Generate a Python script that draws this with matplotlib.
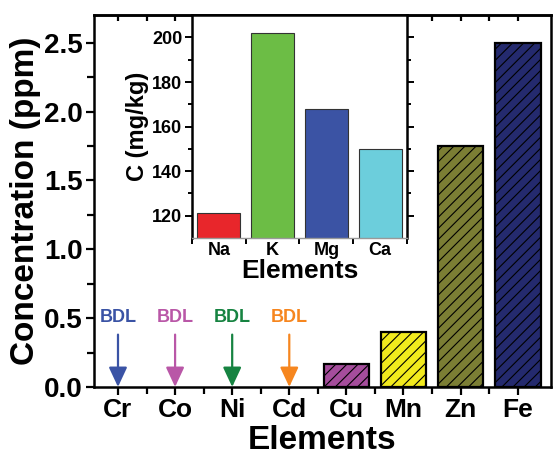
import matplotlib.pyplot as plt

plt.rcParams['font.family'] = ['Liberation Sans', 'DejaVu Sans']
plt.rcParams['font.weight'] = 'bold'
plt.rcParams['hatch.linewidth'] = 0.8

# main chart data (ppm)
elements = ['Cr', 'Co', 'Ni', 'Cd', 'Cu', 'Mn', 'Zn', 'Fe']
conc = [0, 0, 0, 0, 0.17, 0.40, 1.75, 2.50]
bar_colors = ['none', 'none', 'none', 'none', '#a54d9c', '#f2ea1d', '#7b7e34', '#242a6e']
bdl_elements = ['Cr', 'Co', 'Ni', 'Cd']
bdl_colors = ['#3a53a5', '#b957a7', '#168341', '#f6861f']

# inset data (mg/kg)
inset_elements = ['Na', 'K', 'Mg', 'Ca']
inset_vals = [121, 202, 168, 150]
inset_colors = ['#e8262b', '#6cbd45', '#3b53a4', '#6ccedc']

fig = plt.figure(figsize=(5.53, 4.59), dpi=100)
ax = fig.add_axes([0.170, 0.157, 0.826, 0.810])

x = list(range(len(elements)))
for i, (v, c) in enumerate(zip(conc, bar_colors)):
    if v > 0:
        ax.bar(i, v, width=0.8, color=c, edgecolor='black', linewidth=1.6, hatch='///', zorder=2)

# BDL arrows
for el, c in zip(bdl_elements, bdl_colors):
    i = elements.index(el)
    ax.annotate('', xy=(i, 0), xytext=(i, 0.38),
                arrowprops=dict(arrowstyle='-|>,head_length=0.6,head_width=0.28',
                                color=c, lw=1.6, shrinkA=0, shrinkB=0, mutation_scale=20))
    ax.text(i, 0.505, 'BDL', color=c, fontsize=13, fontweight='bold', ha='center', va='center')

ax.set_xlim(-0.42, 7.58)
ax.set_ylim(0, 2.7)
ax.set_xticks(x)
ax.set_xticklabels(elements)
minor_x = [i + 0.5 for i in x[:-1]]
ax.set_xticks(minor_x, minor=True)
ax.set_yticks([0, 0.5, 1.0, 1.5, 2.0, 2.5])
ax.set_yticks([0.25, 0.75, 1.25, 1.75, 2.25], minor=True)
ax.tick_params(axis='x', which='major', labelsize=19, width=1.6, length=6, direction='out', pad=2)
ax.tick_params(axis='y', which='major', labelsize=20, width=1.6, length=6, direction='out', pad=2)
ax.tick_params(axis='both', which='minor', width=1.6, length=5, direction='out')
for lab in ax.get_xticklabels() + ax.get_yticklabels():
    lab.set_fontweight('bold')
for s in ax.spines.values():
    s.set_linewidth(1.8)
ax.set_xlabel('Elements', fontsize=24, fontweight='bold', labelpad=2)
ax.set_ylabel('Concentration (ppm)', fontsize=24, fontweight='bold', labelpad=2)

# top ticks pointing inward
top = ax.secondary_xaxis('top')
top.set_xticks(x)
top.set_xticks(minor_x, minor=True)
top.tick_params(axis='x', which='both', direction='in', length=4, width=1.6, labeltop=False)
top.spines['top'].set_linewidth(1.8)

# inset
ins = fig.add_axes([0.347, 0.4815, 0.389, 0.4855])
ins.bar(range(len(inset_elements)), inset_vals, width=0.8, color=inset_colors,
        edgecolor='#333333', linewidth=0.8, zorder=2)
ins.set_xlim(-0.5, 3.5)
ins.set_ylim(110, 210)
ins.set_xticks(range(len(inset_elements)))
ins.set_xticklabels(inset_elements)
ins.set_xticks([-0.5, 0.5, 1.5, 2.5, 3.5], minor=True)
ins.set_yticks([120, 140, 160, 180, 200])
ins.set_yticks([130, 150, 170, 190], minor=True)
ins.tick_params(axis='x', which='major', length=0, labelsize=13, pad=3)
ins.tick_params(axis='x', which='minor', length=4, width=1.4, direction='out')
ins.tick_params(axis='y', which='both', right=True, direction='out', width=1.4, labelsize=13, pad=2)
ins.tick_params(axis='y', which='major', length=5)
ins.tick_params(axis='y', which='minor', length=3)
for lab in ins.get_xticklabels() + ins.get_yticklabels():
    lab.set_fontweight('bold')
ins.spines['left'].set_linewidth(1.8)
ins.spines['right'].set_linewidth(1.8)
ins.spines['top'].set_linewidth(1.8)
ins.spines['bottom'].set_linewidth(1.0)
ins.spines['bottom'].set_color('#999999')
ins.set_xlabel('Elements', fontsize=19, fontweight='bold', labelpad=0)
ins.set_ylabel('C (mg/kg)', fontsize=17, fontweight='bold', labelpad=2)

fig.savefig('out.png', dpi=100)
